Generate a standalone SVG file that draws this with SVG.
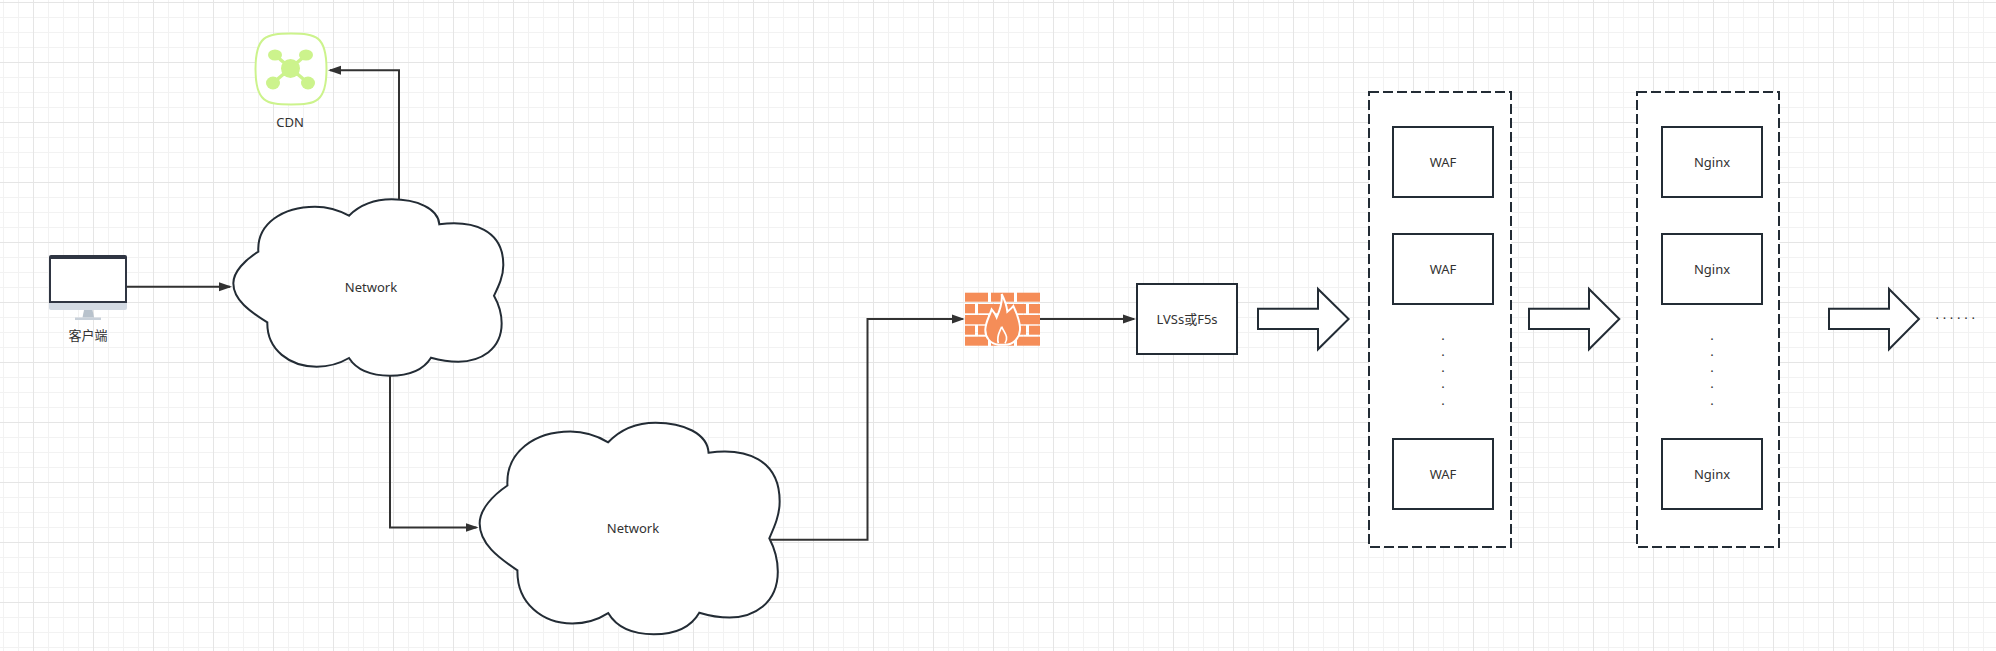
<svg xmlns="http://www.w3.org/2000/svg" width="1996" height="651" viewBox="0 0 1996 651">
<style>
text{font-family:"Noto Sans","Noto Sans CJK SC",sans-serif;font-size:13px;fill:#323232;text-anchor:middle}
.box{fill:#fff;stroke:#232c35;stroke-width:2}
.dash{fill:#fff;stroke:#232c35;stroke-width:2;stroke-dasharray:10 4}
.cloud{fill:#fff;stroke:#232c35;stroke-width:2}
.conn{fill:none;stroke:#323232;stroke-width:2;marker-end:url(#tri)}
.brick{fill:#f58d58}
</style>
<defs>
<pattern id="grid" x="3" y="2" width="60" height="60" patternUnits="userSpaceOnUse">
<path d="M0.5 0V60M15.5 0V60M45.5 0V60M0 15.5H60M0 30.5H60M0 45.5H60" stroke="#f2f2f2" fill="none"/>
<path d="M30.5 0V60M0 0.5H60" stroke="#e5e5e5" fill="none"/>
</pattern>
<marker id="tri" markerUnits="userSpaceOnUse" markerWidth="14" markerHeight="10" refX="11" refY="5" orient="auto">
<path d="M0 0.5L13 5L0 9.5Z" fill="#323232"/>
</marker>
<path id="cloudShape" vector-effect="non-scaling-stroke" d="M775 755C770 670 850 620 945 620C985 620 1020 632 1047 647C1085 610 1135 598 1175 598C1250 598 1315 625 1318 673C1420 660 1510 690 1510 795C1510 830 1495 860 1482 887C1495 910 1505 935 1505 970C1505 1050 1440 1085 1375 1085C1345 1085 1318 1080 1293 1073C1270 1110 1225 1127 1170 1127C1115 1127 1070 1110 1047 1074C1020 1090 985 1100 950 1100C870 1100 800 1050 802 967C750 935 700 900 700 850C700 815 735 780 775 755Z"/>
</defs>
<rect width="1996" height="651" fill="#fff"/>
<rect width="1996" height="651" fill="url(#grid)"/>

<g id="cloud-1">
<use href="#cloudShape" class="cloud" transform="scale(0.33333)"/>
<text x="371" y="292">Network</text>
</g>
<g id="cloud-2">
<use href="#cloudShape" class="cloud" transform="matrix(0.37037 0 0 0.4 220.4 183.5)"/>
<text x="633" y="533">Network</text>
</g>

<g id="connectors">
<path class="conn" d="M127 286.7H230"/>
<path class="conn" d="M399 199V70.3H330"/>
<path class="conn" d="M390 376V527.5H476.5"/>
<path class="conn" d="M770 539.7H867.5V319H962.7"/>
<path class="conn" d="M1040 319H1134"/>
</g>

<g id="client">
<path d="M51 255H125Q127 255 127 257V303H49V257Q49 255 51 255Z" fill="#2f3542"/>
<rect x="51" y="259" width="74" height="42" fill="#fff"/>
<path d="M49 303H127V308Q127 310 125 310H51Q49 310 49 308Z" fill="#d3dae3"/>
<path d="M84 310H92.500L94 317.500H82.500Z" fill="#b8c2cc"/>
<rect x="75" y="317.500" width="26" height="2.500" fill="#c8d0d9"/>
<text x="88" y="340">客户端</text>
</g>

<g id="cdn">
<path d="M291 33.500C316 33.500 326.500 36 326.500 69C326.500 102 316 104.500 291 104.500C266 104.500 255.500 102 255.500 69C255.500 36 266 33.500 291 33.500Z" fill="#fff" stroke="#ccf38c" stroke-width="2"/>
<path d="M275 55L308 83M306 55L273 83" stroke="#ccf38c" stroke-width="3.500" fill="none"/>
<circle cx="290.500" cy="68.500" r="9.500" fill="#ccf38c"/>
<ellipse cx="275" cy="55" rx="7" ry="5.500" fill="#ccf38c"/>
<ellipse cx="306" cy="55" rx="7" ry="5.500" fill="#ccf38c"/>
<ellipse cx="273" cy="83" rx="7" ry="6.500" fill="#ccf38c"/>
<ellipse cx="308" cy="83" rx="7" ry="6.500" fill="#ccf38c"/>
<text x="290" y="127">CDN</text>
</g>

<g id="firewall">
<g class="brick">
<rect x="965" y="292.700" width="23" height="9"/><rect x="991" y="292.700" width="23" height="9"/><rect x="1017" y="292.700" width="23" height="9"/>
<rect x="965" y="304" width="10" height="9.300"/><rect x="978" y="304" width="22" height="9.300"/><rect x="1003" y="304" width="23" height="9.300"/><rect x="1029" y="304" width="11" height="9.300"/>
<rect x="965" y="315" width="23" height="9.300"/><rect x="991" y="315" width="23" height="9.300"/><rect x="1017" y="315" width="23" height="9.300"/>
<rect x="965" y="325.700" width="10" height="9"/><rect x="978" y="325.700" width="22" height="9"/><rect x="1003" y="325.700" width="23" height="9"/><rect x="1029" y="325.700" width="11" height="9"/>
<rect x="965" y="336.700" width="23" height="9"/><rect x="991" y="336.700" width="23" height="9"/><rect x="1017" y="336.700" width="23" height="9"/>
</g>
<g transform="translate(950 280) scale(.33333)">
<path d="M155 42C165 62 170 75 172 95C178 90 185 85 190 78C200 100 212 125 210 150C208 175 190 194 165 194H145C120 192 105 170 106 148C107 125 118 110 125 88C132 96 136 102 140 112C150 90 158 65 155 42Z" fill="#f58d58" stroke="#fff" stroke-width="6"/>
<path d="M155 140C150 155 138 168 145 190M155 140C162 158 178 170 165 190" fill="none" stroke="#fff" stroke-width="5"/>
</g>
</g>

<g id="lvs">
<rect class="box" x="1137" y="284" width="100" height="70"/>
<text x="1187" y="324">LVSs或F5s</text>
</g>

<g id="arrow-1"><path class="box" d="M1258 308.700H1318V289L1348.600 319L1318 349.300V329H1258Z"/></g>
<g id="arrow-2"><path class="box" d="M1529 308.700H1589V289L1619.300 319L1589 349.300V329H1529Z"/></g>
<g id="arrow-3"><path class="box" d="M1829 308.700H1889V289L1919 319L1889 349.300V329H1829Z"/></g>

<g id="waf-group">
<rect class="dash" x="1369" y="92" width="142" height="455"/>
<rect class="box" x="1393" y="127" width="100" height="70"/>
<text x="1443" y="167">WAF</text>
<rect class="box" x="1393" y="234" width="100" height="70"/>
<text x="1443" y="274">WAF</text>
<text x="1443" y="340">.</text><text x="1443" y="356">.</text><text x="1443" y="372">.</text><text x="1443" y="388">.</text><text x="1443" y="404.500">.</text>
<rect class="box" x="1393" y="439" width="100" height="70"/>
<text x="1443" y="479">WAF</text>
</g>

<g id="nginx-group">
<rect class="dash" x="1637" y="92" width="142" height="455"/>
<rect class="box" x="1662" y="127" width="100" height="70"/>
<text x="1712" y="167">Nginx</text>
<rect class="box" x="1662" y="234" width="100" height="70"/>
<text x="1712" y="274">Nginx</text>
<text x="1712" y="340">.</text><text x="1712" y="356">.</text><text x="1712" y="372">.</text><text x="1712" y="388">.</text><text x="1712" y="404.500">.</text>
<rect class="box" x="1662" y="439" width="100" height="70"/>
<text x="1712" y="479">Nginx</text>
</g>

<g id="more">
<text x="1935.500" y="318.500" style="text-anchor:start;letter-spacing:3.7px">......</text>
</g>
</svg>
